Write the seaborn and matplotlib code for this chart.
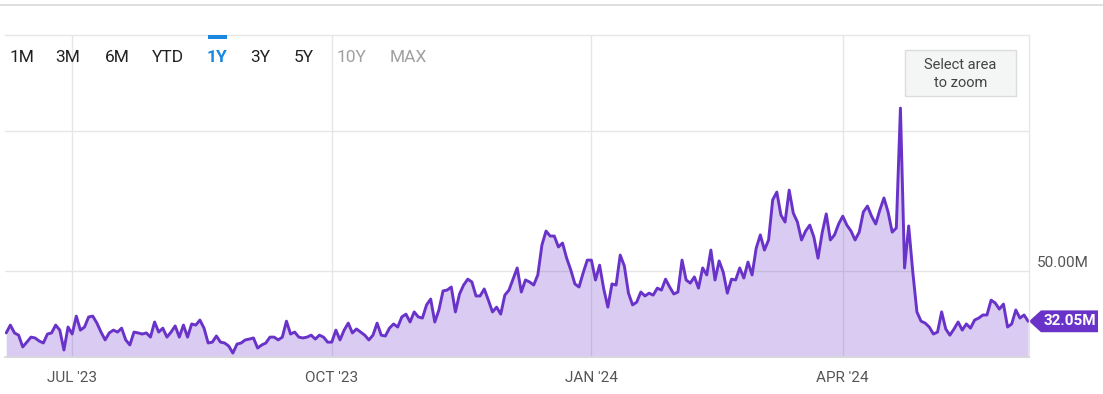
import numpy as np
import pandas as pd
import matplotlib
matplotlib.use('Agg')
import matplotlib.pyplot as plt
from matplotlib.lines import Line2D
from matplotlib.patches import Rectangle, Polygon
import seaborn as sns

# trading days shown in the 1Y window (US market holidays removed)
holidays = ['2023-06-19', '2023-07-04', '2023-09-04', '2023-11-23', '2023-12-25',
            '2024-01-01', '2024-01-15', '2024-02-19', '2024-03-29', '2024-05-27']
dates = pd.bdate_range('2023-06-08', '2024-06-04', freq='C', holidays=holidays)

# daily volume, millions
volume_m = [
    27.9, 30.7, 27.9, 27.1, 22.9, 24.6, 26.4, 26.1, 25.0, 24.3,
    27.5, 27.9, 30.7, 28.9, 21.8, 30.0, 27.5, 33.9, 28.9, 30.0,
    33.6, 33.9, 31.4, 28.2, 25.4, 27.9, 28.9, 28.2, 29.6, 25.4,
    23.6, 28.2, 27.9, 27.5, 27.9, 26.4, 31.8, 28.2, 29.6, 26.4,
    28.2, 30.4, 26.4, 30.7, 26.4, 31.1, 30.7, 32.5, 29.6, 24.3,
    24.6, 26.8, 24.6, 24.3, 23.2, 20.7, 23.9, 24.3, 25.4, 25.7,
    26.1, 22.5, 23.6, 24.3, 26.4, 26.4, 25.4, 26.4, 32.1, 27.5,
    28.2, 26.4, 26.1, 26.4, 27.1, 25.7, 27.1, 26.4, 24.6, 24.6,
    28.9, 25.4, 28.9, 31.4, 27.9, 29.3, 28.2, 27.1, 25.4, 27.1,
    31.4, 27.1, 26.8, 29.6, 31.1, 30.0, 33.6, 34.6, 31.8, 35.4,
    33.6, 33.2, 37.9, 40.0, 31.8, 36.1, 42.9, 43.2, 44.3, 35.4,
    41.8, 45.0, 47.1, 46.1, 41.1, 41.1, 43.6, 39.6, 35.4, 37.1,
    34.6, 41.4, 43.2, 47.1, 51.1, 42.5, 46.8, 46.1, 45.0, 48.6,
    59.3, 64.3, 62.5, 62.5, 58.6, 60.0, 54.6, 50.4, 45.4, 44.3,
    49.3, 53.9, 53.9, 46.8, 52.1, 43.6, 37.1, 45.4, 45.0, 55.7,
    51.8, 42.1, 37.9, 38.9, 42.5, 41.1, 42.1, 41.4, 43.9, 43.2,
    47.1, 44.3, 41.8, 42.5, 53.9, 46.8, 45.7, 47.9, 43.9, 51.1,
    48.6, 57.5, 46.8, 53.6, 49.6, 42.1, 47.1, 46.8, 51.1, 47.5,
    53.2, 48.6, 58.2, 62.9, 57.5, 61.1, 75.4, 78.2, 70.0, 67.5,
    78.9, 70.7, 67.5, 61.1, 64.3, 66.4, 62.1, 54.6, 63.6, 70.4,
    61.1, 62.9, 66.8, 69.6, 66.4, 64.3, 61.1, 63.9, 71.1, 73.2,
    69.6, 66.8, 71.8, 76.1, 71.1, 63.9, 65.4, 108.2, 51.1, 66.1,
    49.6, 35.4, 32.1, 31.4, 30.0, 27.5, 28.2, 35.4, 29.3, 27.1,
    29.3, 31.8, 28.9, 31.1, 29.6, 32.5, 33.2, 34.3, 34.3, 39.6,
    38.6, 36.4, 38.2, 30.0, 31.1, 36.1, 33.2, 34.3, 32.05,
]

range_buttons = ['1M', '3M', '6M', 'YTD', '1Y', '3Y', '5Y', '10Y', 'MAX']
month_labels = ["JUL '23", "OCT '23", "JAN '24", "APR '24"]
last_label = '32.05M'

df = pd.DataFrame({'date': dates, 'vol': volume_m})
df['pos'] = np.arange(len(df))

# ordinal axis: first trading day of each labelled month
first_days = df.groupby(df.date.dt.to_period('M')).pos.min()
tick_pos = [first_days[pd.Period(p, 'M')] for p in ['2023-07', '2023-10', '2024-01', '2024-04']]

sns.set_style('white')
plt.rcParams['font.family'] = ['Roboto', 'DejaVu Sans']

purple = '#6933c9'
grid_c = '#e6e6e6'

W, H = 1103, 394
fig = plt.figure(figsize=(W / 100, H / 100), dpi=100)
ax = fig.add_axes([5 / W, 37 / H, 1024 / W, 322 / H])

ax.fill_between(df.pos, df.vol, 0, color=purple, alpha=0.25, lw=0)
sns.lineplot(data=df, x='pos', y='vol', ax=ax, color=purple, lw=2.1)

ax.set_xlim(-0.3, 248.2)
ax.set_ylim(19.3, 134.3)
ax.set_xticks(tick_pos)
ax.set_xticklabels(month_labels, color='#555555', fontsize=11)
ax.set_yticks([50, 100])
ax.set_yticklabels([])
ax.tick_params(length=0, pad=10)
ax.grid(True, color=grid_c, lw=1)
ax.set_xlabel('')
ax.set_ylabel('')
for s in ['top', 'right']:
    ax.spines[s].set_color(grid_c)
    ax.spines[s].set_linewidth(1)
ax.spines['bottom'].set_color('#d8d8d8')
ax.spines['bottom'].set_linewidth(1.2)
ax.spines['left'].set_visible(False)

# y label on the right
ytr = ax.get_yaxis_transform()
ax.text(1.008, 53, '50.00M', transform=ytr, ha='left', va='center',
        fontsize=11, color='#555555', clip_on=False)

# last value badge
last = volume_m[-1]
badge = Polygon([(1.0, last), (1.0117, last + 3.9), (1.0674, last + 3.9),
                 (1.0674, last - 3.9), (1.0117, last - 3.9)],
                closed=True, transform=ytr, facecolor=purple, edgecolor='none',
                clip_on=False)
ax.add_patch(badge)
ax.text(1.040, last, last_label, transform=ytr, ha='center', va='center',
        fontsize=11, color='white', fontweight='bold', clip_on=False)

# top rule
fig.add_artist(Line2D([0, 1], [1 - 4.5 / H, 1 - 4.5 / H], color='#d9d9d9', lw=1.2))

# range selector buttons
btn_x = [22, 68, 117, 168, 217, 260, 304, 352, 408]
for lab, bx in zip(range_buttons, btn_x):
    if lab == '1Y':
        c, fw = '#1a88e0', 'bold'
    elif lab in ('10Y', 'MAX'):
        c, fw = '#a0a0a0', 'normal'
    else:
        c, fw = '#222222', 'normal'
    fig.text(bx / W, 1 - 58 / H, lab, ha='center', va='center', fontsize=12.5,
             color=c, fontweight=fw)
fig.add_artist(Rectangle((208 / W, 1 - 39 / H), 19 / W, 4 / H,
                         transform=fig.transFigure, facecolor='#1a88e0', edgecolor='none'))

# zoom hint box
fig.add_artist(Rectangle((905 / W, 1 - 96 / H), 111 / W, 46 / H,
                         transform=fig.transFigure, facecolor='#f4f5f5',
                         edgecolor='#dcdcdc', lw=1))
fig.text(960.5 / W, 1 - 65 / H, 'Select area', ha='center', va='center',
         fontsize=10.5, color='#444444')
fig.text(960.5 / W, 1 - 83 / H, 'to zoom', ha='center', va='center',
         fontsize=10.5, color='#444444')

fig.savefig('out.png', dpi=100)
